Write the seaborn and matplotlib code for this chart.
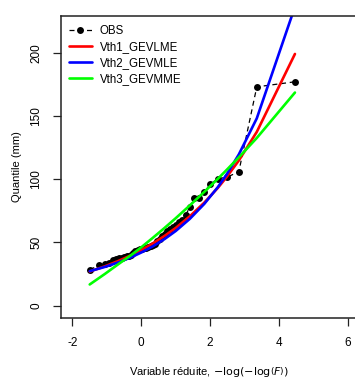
import numpy as np
import matplotlib
matplotlib.use("Agg")
import matplotlib.pyplot as plt
import seaborn as sns

# --- data ---
# plotting positions (Gumbel reduced variate) of the observations
obs_x = [-1.499, -1.218, -1.054, -0.929, -0.824, -0.732, -0.648, -0.570, -0.497, -0.427,
         -0.360, -0.294, -0.230, -0.167, -0.104, -0.042, 0.019, 0.081, 0.143, 0.206,
         0.270, 0.334, 0.399, 0.466, 0.535, 0.606, 0.679, 0.755, 0.834, 0.917,
         1.004, 1.096, 1.194, 1.299, 1.414, 1.539, 1.677, 1.834, 2.013, 2.227,
         2.490, 2.839, 3.361, 4.471]
obs_q = [28.5, 32, 33, 34, 36, 37, 37.5, 38, 38.5, 39,
         39.5, 40, 42, 43, 44, 44.5, 45, 45.5, 46, 46.5,
         47, 48, 49, 51, 53, 55, 57, 59, 60.5, 62,
         64, 66, 68, 72, 78, 85, 85.5, 90, 96, 100.5,
         101.5, 106, 173, 177]

# fitted curves evaluated at a subset of the plotting positions
fit_x = [-1.499, -1.054, -0.648, -0.294, 0.019, 0.334, 0.679, 1.004,
         1.414, 1.834, 2.227, 2.490, 2.839, 3.361, 4.471]
lme_q = [27.0, 31.2, 35.6, 39.9, 44.3, 49.2, 55.2, 61.5,
         70.7, 81.5, 93.1, 101.9, 114.8, 137.4, 199.0]
mle_q = [27.3, 30.7, 34.4, 38.3, 42.3, 46.9, 52.7, 59.1,
         68.7, 80.5, 93.7, 104.0, 119.6, 148.1, 236.3]
mme_q = [16.8, 25.2, 33.2, 40.0, 46.6, 53.6, 61.5, 69.2,
         79.3, 90.0, 100.3, 107.5, 117.3, 132.6, 168.5]

x_ticks = [-2, 0, 2, 4, 6]
y_ticks = [0, 50, 100, 150, 200]

sns.set_style("white")
plt.rcParams["font.family"] = ["Liberation Sans Narrow", "Liberation Sans", "DejaVu Sans"]
plt.rcParams["mathtext.fontset"] = "custom"
plt.rcParams["mathtext.rm"] = "Liberation Sans Narrow"
plt.rcParams["mathtext.it"] = "Liberation Sans Narrow:italic"
plt.rcParams["text.color"] = "black"
plt.rcParams["axes.labelcolor"] = "black"
plt.rcParams["xtick.color"] = "black"
plt.rcParams["ytick.color"] = "black"

fig = plt.figure(figsize=(3.55, 3.85), dpi=100)
ax = fig.add_axes([61 / 355, 67 / 385, 296 / 355, 302 / 385])

sns.lineplot(x=obs_x, y=obs_q, ax=ax, color="black", linestyle=(0, (4, 3)), linewidth=0.9,
             marker="o", markersize=5, markeredgewidth=0, sort=False, estimator=None,
             label="OBS")
sns.lineplot(x=fit_x, y=lme_q, ax=ax, color="#FF0000", linewidth=1.9, sort=False,
             estimator=None, label="Vth1_GEVLME")
sns.lineplot(x=fit_x, y=mle_q, ax=ax, color="#0000FF", linewidth=1.9, sort=False,
             estimator=None, label="Vth2_GEVMLE")
sns.lineplot(x=fit_x, y=mme_q, ax=ax, color="#00FF00", linewidth=1.9, sort=False,
             estimator=None, label="Vth3_GEVMME")

ax.set_xlim(-2.334, 6.276)
ax.set_ylim(-9.7, 229)
ax.set_xticks(x_ticks)
ax.set_yticks(y_ticks)
ax.set_xticklabels([str(t) for t in x_ticks], fontsize=8.5)
ax.set_yticklabels([str(t) for t in y_ticks], fontsize=8.5, rotation=90, va="center")
ax.tick_params(axis="both", direction="out", length=5.5, width=0.9, color="#222222",
               bottom=True, left=True)
ax.tick_params(axis="x", pad=8)
ax.tick_params(axis="y", pad=8)

for side in ["left", "bottom", "top"]:
    ax.spines[side].set_color("#222222")
    ax.spines[side].set_linewidth(1.1)
ax.spines["right"].set_visible(False)

ax.set_xlabel(r"Variable réduite, $-\mathrm{log}\left(-\mathrm{log}\left(F\right)\right)$",
              fontsize=8, labelpad=12)
ax.set_ylabel("Quantile (mm)", fontsize=8, labelpad=6)

ax.legend(loc="upper left", bbox_to_anchor=(0.01, 0.985), frameon=False, fontsize=8.3,
          handlelength=2.0, handletextpad=0.7, labelspacing=0.35, borderaxespad=0)

fig.savefig("out.png", dpi=100)
